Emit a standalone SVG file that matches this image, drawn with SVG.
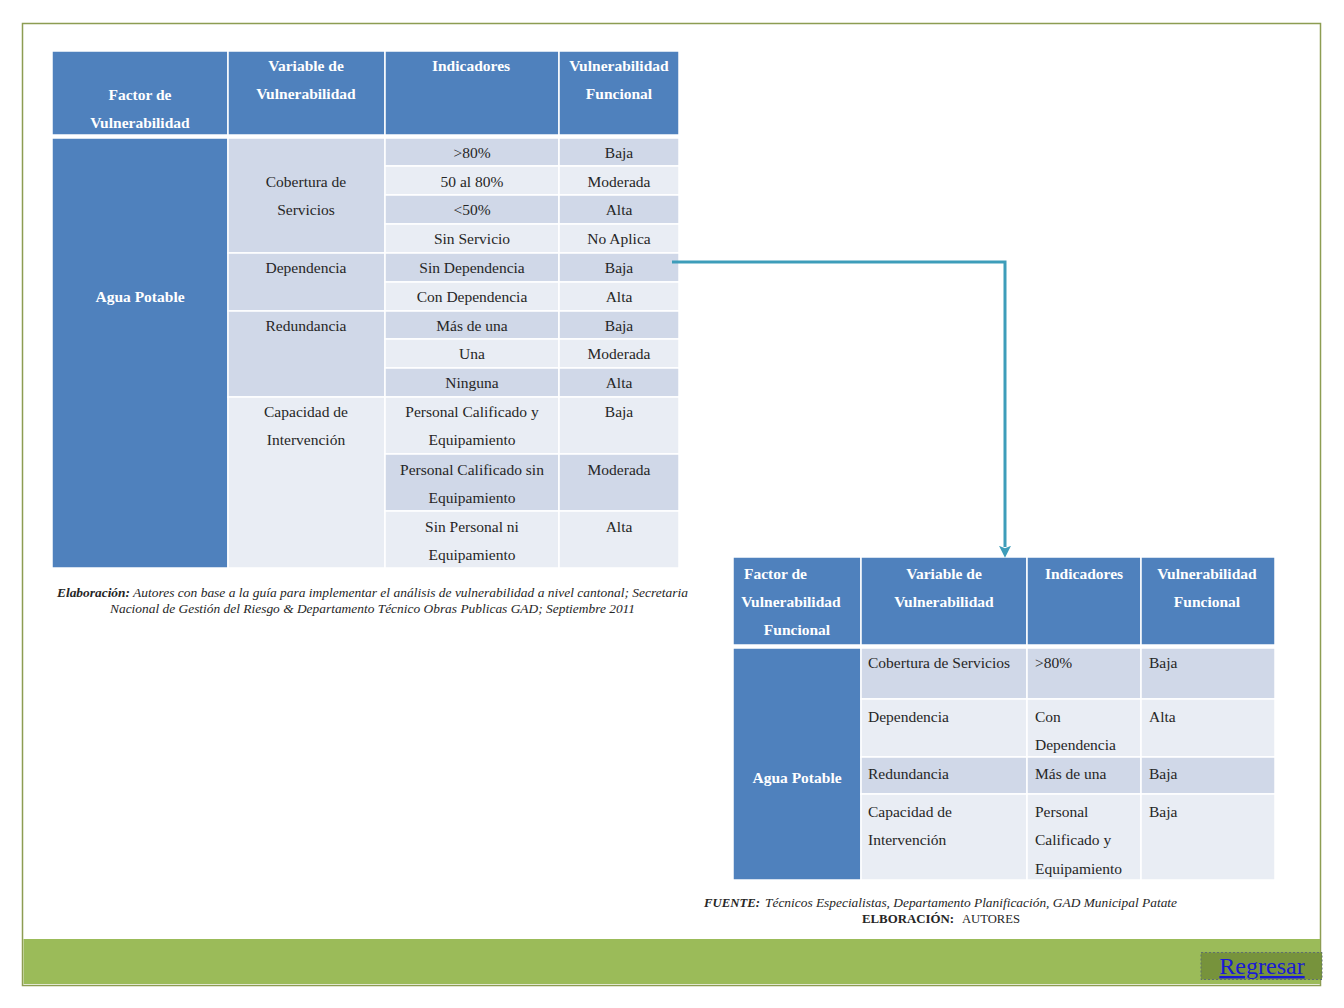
<svg xmlns="http://www.w3.org/2000/svg" width="1344" height="1008" viewBox="0 0 1344 1008">
<defs>
<style>
.hd{fill:#4f81bd;stroke:#ffffff;stroke-width:1.5}
.dk{fill:#d0d8e8;stroke:#ffffff;stroke-width:1.5}
.lt{fill:#e9edf4;stroke:#ffffff;stroke-width:1.5}
.ht{font-family:"Liberation Serif","Times New Roman",serif;font-size:15.5px;font-weight:bold;fill:#ffffff}
.bt{font-family:"Liberation Serif","Times New Roman",serif;font-size:15.5px;fill:#262626}
.c{text-anchor:middle}
.cap{font-family:"Liberation Serif","Times New Roman",serif;font-size:12px;font-style:italic;fill:#262626}
.capb{font-family:"Liberation Serif","Times New Roman",serif;font-size:12px;font-style:italic;font-weight:bold;fill:#262626}
.conn{fill:none;stroke:#3e9dba;stroke-width:3}
</style>
<marker id="arr" viewBox="0 0 10 10" refX="1" refY="5" markerWidth="12" markerHeight="12" markerUnits="userSpaceOnUse" orient="auto">
<path d="M0,0 L10,5 L0,10 L2,5 Z" fill="#3e9dba"/>
</marker>
</defs>
<rect x="0" y="0" width="1344" height="1008" fill="#ffffff"/>
<g id="frame">
<rect x="22.5" y="23.5" width="1298" height="962" fill="none" stroke="#8d9d52" stroke-width="1.5"/>
<rect x="23.5" y="939" width="1296.5" height="45" fill="#9bbb59"/>
</g>
<g id="table1">
<rect class="hd" x="52" y="51" width="176" height="84"/>
<rect class="hd" x="228" y="51" width="157" height="84"/>
<rect class="hd" x="385" y="51" width="174" height="84"/>
<rect class="hd" x="559" y="51" width="120" height="84"/>
<text class="ht c" x="140" y="100">Factor de</text>
<text class="ht c" x="140" y="128">Vulnerabilidad</text>
<text class="ht c" x="306" y="71">Variable de</text>
<text class="ht c" x="306" y="99">Vulnerabilidad</text>
<text class="ht c" x="471" y="71">Indicadores</text>
<text class="ht c" x="619" y="71">Vulnerabilidad</text>
<text class="ht c" x="619" y="99">Funcional</text>
<rect class="hd" x="52" y="138" width="176" height="430"/>
<text class="ht c" x="140" y="302">Agua Potable</text>
<rect class="dk" x="228" y="138" width="157" height="115"/>
<rect class="dk" x="228" y="253" width="157" height="58"/>
<rect class="dk" x="228" y="311" width="157" height="86"/>
<rect class="lt" x="228" y="397" width="157" height="171"/>
<text class="bt c" x="306" y="187">Cobertura de</text>
<text class="bt c" x="306" y="215">Servicios</text>
<text class="bt c" x="306" y="273">Dependencia</text>
<text class="bt c" x="306" y="331">Redundancia</text>
<text class="bt c" x="306" y="417">Capacidad de</text>
<text class="bt c" x="306" y="445">Intervención</text>
<rect class="dk" x="385" y="138" width="174" height="28"/><rect class="dk" x="559" y="138" width="120" height="28"/>
<rect class="lt" x="385" y="166" width="174" height="29"/><rect class="lt" x="559" y="166" width="120" height="29"/>
<rect class="dk" x="385" y="195" width="174" height="29"/><rect class="dk" x="559" y="195" width="120" height="29"/>
<rect class="lt" x="385" y="224" width="174" height="29"/><rect class="lt" x="559" y="224" width="120" height="29"/>
<rect class="dk" x="385" y="253" width="174" height="29"/><rect class="dk" x="559" y="253" width="120" height="29"/>
<rect class="lt" x="385" y="282" width="174" height="29"/><rect class="lt" x="559" y="282" width="120" height="29"/>
<rect class="dk" x="385" y="311" width="174" height="28"/><rect class="dk" x="559" y="311" width="120" height="28"/>
<rect class="lt" x="385" y="339" width="174" height="29"/><rect class="lt" x="559" y="339" width="120" height="29"/>
<rect class="dk" x="385" y="368" width="174" height="29"/><rect class="dk" x="559" y="368" width="120" height="29"/>
<rect class="lt" x="385" y="397" width="174" height="57"/><rect class="lt" x="559" y="397" width="120" height="57"/>
<rect class="dk" x="385" y="454" width="174" height="57"/><rect class="dk" x="559" y="454" width="120" height="57"/>
<rect class="lt" x="385" y="511" width="174" height="57"/><rect class="lt" x="559" y="511" width="120" height="57"/>
<text class="bt c" x="472" y="158">&gt;80%</text><text class="bt c" x="619" y="158">Baja</text>
<text class="bt c" x="472" y="187">50 al 80%</text><text class="bt c" x="619" y="187">Moderada</text>
<text class="bt c" x="472" y="215">&lt;50%</text><text class="bt c" x="619" y="215">Alta</text>
<text class="bt c" x="472" y="244">Sin Servicio</text><text class="bt c" x="619" y="244">No Aplica</text>
<text class="bt c" x="472" y="273">Sin Dependencia</text><text class="bt c" x="619" y="273">Baja</text>
<text class="bt c" x="472" y="302">Con Dependencia</text><text class="bt c" x="619" y="302">Alta</text>
<text class="bt c" x="472" y="331">Más de una</text><text class="bt c" x="619" y="331">Baja</text>
<text class="bt c" x="472" y="359">Una</text><text class="bt c" x="619" y="359">Moderada</text>
<text class="bt c" x="472" y="388">Ninguna</text><text class="bt c" x="619" y="388">Alta</text>
<text class="bt c" x="472" y="417">Personal Calificado y</text><text class="bt c" x="619" y="417">Baja</text>
<text class="bt c" x="472" y="445">Equipamiento</text>
<text class="bt c" x="472" y="475">Personal Calificado sin</text><text class="bt c" x="619" y="475">Moderada</text>
<text class="bt c" x="472" y="503">Equipamiento</text>
<text class="bt c" x="472" y="532">Sin Personal ni</text><text class="bt c" x="619" y="532">Alta</text>
<text class="bt c" x="472" y="560">Equipamiento</text>
</g>
<g id="caption1">
<text class="capb" x="57" y="597" textLength="73" lengthAdjust="spacingAndGlyphs">Elaboración:</text>
<text class="cap" x="133" y="597" textLength="555" lengthAdjust="spacingAndGlyphs">Autores con base a la guía para implementar el análisis de  vulnerabilidad a nivel cantonal; Secretaria</text>
<text class="cap" x="110" y="613" textLength="525" lengthAdjust="spacingAndGlyphs">Nacional de Gestión del Riesgo &amp; Departamento Técnico Obras Publicas GAD;  Septiembre 2011</text>
</g>
<g id="table2">
<rect class="hd" x="733" y="557" width="128" height="88"/>
<rect class="hd" x="861" y="557" width="166" height="88"/>
<rect class="hd" x="1027" y="557" width="114" height="88"/>
<rect class="hd" x="1141" y="557" width="134" height="88"/>
<text class="ht" x="744" y="579">Factor de</text>
<text class="ht c" x="791" y="607">Vulnerabilidad</text>
<text class="ht c" x="797" y="635">Funcional</text>
<text class="ht c" x="944" y="579">Variable de</text>
<text class="ht c" x="944" y="607">Vulnerabilidad</text>
<text class="ht c" x="1084" y="579">Indicadores</text>
<text class="ht c" x="1207" y="579">Vulnerabilidad</text>
<text class="ht c" x="1207" y="607">Funcional</text>
<rect class="hd" x="733" y="648" width="128" height="232"/>
<text class="ht c" x="797" y="783">Agua Potable</text>
<rect class="dk" x="861" y="648" width="166" height="51"/><rect class="dk" x="1027" y="648" width="114" height="51"/><rect class="dk" x="1141" y="648" width="134" height="51"/>
<rect class="lt" x="861" y="699" width="166" height="58"/><rect class="lt" x="1027" y="699" width="114" height="58"/><rect class="lt" x="1141" y="699" width="134" height="58"/>
<rect class="dk" x="861" y="757" width="166" height="37"/><rect class="dk" x="1027" y="757" width="114" height="37"/><rect class="dk" x="1141" y="757" width="134" height="37"/>
<rect class="lt" x="861" y="794" width="166" height="86"/><rect class="lt" x="1027" y="794" width="114" height="86"/><rect class="lt" x="1141" y="794" width="134" height="86"/>
<text class="bt" x="868" y="668">Cobertura de Servicios</text>
<text class="bt" x="1035" y="668">&gt;80%</text>
<text class="bt" x="1149" y="668">Baja</text>
<text class="bt" x="868" y="722">Dependencia</text>
<text class="bt" x="1035" y="722">Con</text>
<text class="bt" x="1035" y="750">Dependencia</text>
<text class="bt" x="1149" y="722">Alta</text>
<text class="bt" x="868" y="779">Redundancia</text>
<text class="bt" x="1035" y="779">Más de una</text>
<text class="bt" x="1149" y="779">Baja</text>
<text class="bt" x="868" y="817">Capacidad de</text>
<text class="bt" x="868" y="845">Intervención</text>
<text class="bt" x="1035" y="817">Personal</text>
<text class="bt" x="1035" y="845">Calificado y</text>
<text class="bt" x="1035" y="874">Equipamiento</text>
<text class="bt" x="1149" y="817">Baja</text>
</g>
<g id="caption2">
<text class="capb" x="704" y="907" textLength="56" lengthAdjust="spacingAndGlyphs">FUENTE:</text>
<text class="cap" x="765" y="907" textLength="412" lengthAdjust="spacingAndGlyphs">Técnicos Especialistas, Departamento Planificación, GAD Municipal Patate</text>
<text x="862" y="923" textLength="92" lengthAdjust="spacingAndGlyphs" style="font-family:'Liberation Serif','Times New Roman',serif;font-size:12px;font-weight:bold;fill:#262626">ELBORACIÓN:</text>
<text x="962" y="923" textLength="58" lengthAdjust="spacingAndGlyphs" style="font-family:'Liberation Serif','Times New Roman',serif;font-size:12px;fill:#262626">AUTORES</text>
</g>
<g id="connectors">
<path class="conn" d="M672,262 H1005 V547" marker-end="url(#arr)"/>
</g>
<g id="regresar">
<rect x="1201" y="952.5" width="121" height="27" fill="#77933c" stroke="#5f6f6f" stroke-width="1" stroke-dasharray="2,2"/>
<text x="1262" y="974" text-anchor="middle" style="font-family:'Liberation Serif','Times New Roman',serif;font-size:24px;fill:#1a1ad6;text-decoration:underline">Regresar</text>
</g>
</svg>
